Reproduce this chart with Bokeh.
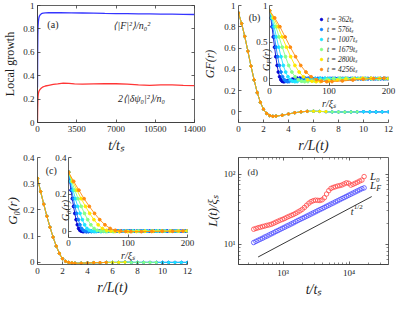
import math
from bokeh.plotting import figure
from bokeh.models import (Range1d, LinearAxis, LogAxis, FixedTicker, CustomJSTickFormatter,
                          Label, Legend, LegendItem, GridBox)
from bokeh.embed import file_html
from bokeh.resources import INLINE

FONT = "Liberation Serif"
AXC = "#3a3a3a"
TXT = "#1e1e1e"

# ---------------- data ----------------
a_t_F = [0, 15, 30, 50, 80, 120, 170, 250, 350, 500, 700, 1000, 1500, 2000, 3000, 4000,
         5000, 6000, 7000, 8000, 9000, 10000, 11000, 12000, 13000, 14000]
a_F2 = [0.30, 0.60, 0.74, 0.82, 0.865, 0.893, 0.91, 0.922, 0.93, 0.935, 0.937, 0.938, 0.938,
        0.938, 0.937, 0.936, 0.934, 0.932, 0.931, 0.930, 0.929, 0.928, 0.927, 0.926, 0.924, 0.923]
a_t_psi = [0, 15, 30, 50, 80, 120, 170, 250, 350, 500, 700, 1000, 1400, 1800, 2300, 2800, 3300,
           4000, 5000, 6000, 7000, 8000, 9000, 10000, 11000, 12000, 13000, 14000]
a_psi = [0.0, 0.12, 0.18, 0.22, 0.25, 0.265, 0.275, 0.285, 0.295, 0.305, 0.312, 0.318, 0.325,
         0.33, 0.337, 0.335, 0.33, 0.328, 0.33, 0.331, 0.331, 0.328, 0.322, 0.318, 0.322, 0.321,
         0.318, 0.316]

times = [362, 576, 1007, 1679, 2800, 4256]
colors = ["#0505d2", "#1280ff", "#1ee4ff", "#86ff86", "#ffe800", "#ff8c10"]
L_scale = [8.5, 11.0, 15.5, 21.5, 28.5, 35.0]
rL = [0, 0.25, 0.5, 0.75, 1.0, 1.25, 1.5, 1.75, 2.0, 2.25, 2.5, 2.75, 3.0,
      3.5, 4.0, 4.5, 5.0, 5.5, 6.0, 6.5, 7.0, 7.5, 8.0, 8.5, 9.0, 9.5, 10.0, 10.5, 11.0, 11.5, 12.0,
      12.5, 13.0, 13.5, 14.0, 14.5, 15.0, 15.5, 16.0, 16.5, 17.0, 17.5, 18.0, 18.5, 19.0, 19.5,
      20.0, 20.5, 21.0, 21.5, 22.0, 22.5, 23.0, 23.5, 24.0]
GF = [0.93, 0.83, 0.71, 0.57, 0.43, 0.30, 0.18, 0.09, 0.025, -0.015, -0.035, -0.042, -0.04,
      -0.032, -0.02, -0.008, 0.0, 0.005, 0.006, 0.004, 0.002, 0.0, -0.001, -0.002, -0.001, 0.0,
      0.001, 0.0, -0.001, 0.0, 0.0,
      0.001, 0.0, -0.001, 0.0, 0.001, 0.0, 0.0, -0.001, 0.0, 0.001, 0.0, 0.0, -0.001, 0.0, 0.0,
      0.001, 0.0, 0.0, -0.001, 0.0, 0.0, 0.001, 0.0, 0.0]
G0 = [0.32, 0.27, 0.222, 0.176, 0.134, 0.096, 0.062, 0.034, 0.014, 0.004, 0.0, -0.002, -0.003,
      -0.003, -0.002, -0.001, -0.001, 0.0, 0.0, 0.0, 0.001, 0.0, 0.0, 0.0, 0.0, 0.0, 0.0, 0.0,
      0.0, 0.0, 0.0,
      0.0, 0.0, 0.0, 0.0, 0.0, 0.0, 0.0, 0.0, 0.0, 0.0, 0.0, 0.0, 0.0, 0.0, 0.0,
      0.0, 0.0, 0.0, 0.0, 0.0, 0.0, 0.0, 0.0, 0.0]
R_MAX = 205

d_t = [360, 389, 420, 453, 490, 529, 571, 617, 666, 720, 777, 839, 906, 979, 1057, 1142, 1233,
       1332, 1438, 1553, 1678, 1812, 1957, 2113, 2282, 2465, 2662, 2875, 3105, 3354, 3622, 3912,
       4225, 4563, 4928, 5322, 5748, 6208, 6704, 7241, 7820, 8446, 9121, 9851, 10639, 11490,
       12410, 13402, 14475, 15633, 16883]
d_L0 = [16.4, 16.8, 17.2, 17.5, 17.9, 18.2, 18.6, 18.9, 19.3, 19.9, 20.6, 21.3, 22.0, 22.6, 23.3,
        24.2, 25.0, 25.8, 26.6, 27.6, 28.8, 30.0, 31.5, 33.5, 36.0, 38.5, 40.5, 41.8, 42.5, 42.3,
        42.0, 43.0, 46.0, 52.0, 58.0, 62.5, 64.5, 66.0, 67.5, 68.5, 70.0, 72.5, 75.0, 74.0, 69.5,
        71.5, 74.0, 76.5, 79.5, 82.0, 92.0]
d_LF = [10.6, 11.0, 11.4, 11.8, 12.2, 12.7, 13.1, 13.6, 14.1, 14.6, 15.2, 15.7, 16.3, 16.9, 17.5,
        18.2, 18.8, 19.5, 20.2, 21.0, 21.8, 22.6, 23.4, 24.2, 25.1, 26.0, 27.0, 28.0, 29.0, 30.1,
        31.2, 32.3, 33.5, 34.8, 36.0, 37.4, 38.7, 40.2, 41.6, 43.2, 44.8, 46.4, 48.1, 49.9, 51.7,
        53.6, 55.6, 57.6, 59.7, 61.9, 63.5]
guide_t = [420, 22000]
guide_L = [6.6, 47.8]

NUMFMT = "return String(Math.round(tick*1000)/1000);"
LOGFMT = ("const e = Math.round(Math.log10(tick));"
          "const s = {1:'\u00b9',2:'\u00b2',3:'\u00b3',4:'\u2074'};"
          "return '10' + s[e];")


def base_fig(w, h, xr, yr, bl, br, bt, bb, xt="linear", yt="linear", bg="white", bga=1.0):
    p = figure(width=w, height=h, x_range=xr, y_range=yr, x_axis_type=xt, y_axis_type=yt,
               output_backend="svg", toolbar_location=None,
               min_border_left=bl, min_border_right=br, min_border_top=bt, min_border_bottom=bb)
    p.border_fill_alpha = 0
    p.background_fill_color = bg
    p.background_fill_alpha = bga
    p.outline_line_color = None
    p.xgrid.visible = False
    p.ygrid.visible = False
    return p


def style_axis(ax, ticks, minor=None, fs="9px", fmt=NUMFMT, empty=False, line=True):
    ax.ticker = FixedTicker(ticks=ticks, minor_ticks=minor or [])
    ax.axis_line_color = AXC if line else None
    ax.axis_line_width = 0.8
    ax.major_tick_line_color = AXC
    ax.major_tick_line_width = 0.8
    ax.major_tick_in = 3
    ax.major_tick_out = 0
    if minor:
        ax.minor_tick_line_color = AXC
        ax.minor_tick_line_width = 0.6
        ax.minor_tick_in = 2
        ax.minor_tick_out = 0
    else:
        ax.minor_tick_line_color = None
    if empty:
        ax.formatter = CustomJSTickFormatter(code="return '';")
        ax.major_label_text_font_size = "0px"
        ax.major_label_standoff = 0
    else:
        ax.formatter = CustomJSTickFormatter(code=fmt)
        ax.major_label_text_font = FONT
        ax.major_label_text_font_size = fs
        ax.major_label_text_color = TXT
        ax.major_label_standoff = 3
    ax.axis_label_text_font = FONT
    ax.axis_label_text_color = TXT


def xlabel(ax, text, fs="14px", standoff=3):
    ax.axis_label = text
    ax.axis_label_text_font_size = fs
    ax.axis_label_text_font_style = "italic"
    ax.axis_label_standoff = standoff


def ytitle(p, text, bounds, fs="13px", standoff=2, log=False):
    """label-only left axis; its title is centred on `bounds`"""
    ax = LogAxis() if log else LinearAxis()
    ax.ticker = FixedTicker(ticks=[])
    ax.formatter = CustomJSTickFormatter(code="return '';")
    ax.major_label_text_font_size = "0px"
    ax.major_label_standoff = 0
    ax.axis_line_color = None
    ax.major_tick_line_color = None
    ax.minor_tick_line_color = None
    ax.bounds = bounds
    ax.axis_label = text
    ax.axis_label_text_font = FONT
    ax.axis_label_text_font_size = fs
    ax.axis_label_text_font_style = "italic"
    ax.axis_label_text_color = TXT
    ax.axis_label_standoff = standoff
    p.add_layout(ax, "left")


def lab(p, x, y, text, fs, style="italic", align="center", angle=0.0, dx=0, dy=0,
        baseline="middle"):
    p.add_layout(Label(x=x, y=y, text=text, x_offset=dx, y_offset=dy, angle=angle,
                       text_font=FONT, text_font_style=style, text_font_size=f"{fs}px",
                       text_align=align, text_baseline=baseline, text_color=TXT))


def vcomp(p, x, y, parts):
    total = sum(pt[3] for pt in parts)
    off = -total / 2
    for text, size, dx, adv in parts:
        lab(p, x, y, text, size, align="left", angle=math.pi / 2, dx=dx, dy=off)
        off += adv


# ---------------- (a) ----------------
pa = base_fig(207, 160, Range1d(0, 14000), Range1d(0, 1), 32, 13, 5, 38)
pa.outline_line_color = AXC
pa.outline_line_width = 0.8
pa.line(a_t_F, a_F2, color="#3535ff", line_width=1.3)
pa.line(a_t_psi, a_psi, color="#ff3535", line_width=1.3)
style_axis(pa.xaxis[0], [0, 3500, 7000, 10500, 14000])
style_axis(pa.yaxis[0], [0, 0.2, 0.4, 0.6, 0.8, 1.0])
xlabel(pa.xaxis[0], "t/t\u209b")
pa.yaxis[0].axis_label = "Local growth"
pa.yaxis[0].axis_label_text_font_size = "12px"
pa.yaxis[0].axis_label_text_font_style = "normal"
pa.yaxis[0].axis_label_standoff = 3
ta = LinearAxis(); style_axis(ta, [0, 3500, 7000, 10500, 14000], empty=True, line=False)
ra = LinearAxis(); style_axis(ra, [0, 0.2, 0.4, 0.6, 0.8, 1.0], empty=True, line=False)
pa.add_layout(ta, "above")
pa.add_layout(ra, "right")
lab(pa, 1374, 0.84, "(a)", 10, style="normal")
lab(pa, 8417, 0.83, "\u27e8|F|\u00b2\u27e9/n\u2080\u00b2", 10)
lab(pa, 9276, 0.205, "2\u27e8|\u03b4\u03c8\u2080|\u00b2\u27e9/n\u2080", 10)

# ---------------- (b) ----------------
pb = base_fig(200, 160, Range1d(0, 12), Range1d(-0.1, 1.0), 34, 7, 5, 38)
style_axis(pb.xaxis[0], [0, 2, 4, 6, 8, 10, 12])
style_axis(pb.yaxis[0], [0, 0.2, 0.4, 0.6, 0.8, 1.0])
xlabel(pb.xaxis[0], "r/L(t)")
ytitle(pb, "GF(r)", (0.496, 0.696), fs="12px", standoff=5)
lab(pb, 1.28, 0.89, "(b)", 10, style="normal")
# inset y-title (sits inside the main frame, next to the inset axis)
vcomp(pb, 2.226, 0.488, [("G", 10, 0, 7.2), ("F", 7, 2.5, 4.3), ("(r)", 10, 0, 10.5)])

ib = base_fig(151, 115, Range1d(0, 200), Range1d(-0.094, 1.0), 21, 11, 5, 30, bga=0)
style_axis(ib.xaxis[0], [0, 100, 200])
style_axis(ib.yaxis[0], [0, 0.5, 1.0])
ib.xaxis[0].major_label_standoff = 2
ib.yaxis[0].major_label_standoff = 2
xlabel(ib.xaxis[0], "r/\u03be\u209b", fs="10px", standoff=1)

# ---------------- (c) ----------------
pc = base_fig(199, 147, Range1d(0, 12), Range1d(-0.008, 0.4), 32, 10, 5, 33)
style_axis(pc.xaxis[0], [0, 2, 4, 6, 8, 10, 12])
style_axis(pc.yaxis[0], [0, 0.1, 0.2, 0.3, 0.4])
xlabel(pc.xaxis[0], "r/L(t)")
ytitle(pc, "G\u2080(r)", (0.057, 0.257), fs="13px", standoff=1)
lab(pc, 1.10, 0.352, "(c)", 10, style="normal")
lab(pc, 2.255, 0.198, "G\u2080(r)", 10, angle=math.pi / 2)

ic = base_fig(151, 114, Range1d(0, 200), Range1d(-0.035, 0.4), 20, 12, 4, 30, bga=0)
style_axis(ic.xaxis[0], [0, 100, 200])
style_axis(ic.yaxis[0], [0, 0.2, 0.4])
ic.xaxis[0].major_label_standoff = 2
ic.yaxis[0].major_label_standoff = 2
xlabel(ic.xaxis[0], "r/\u03be\u209b", fs="10px", standoff=1)

legend_items = []
for i, t in enumerate(times):
    L = L_scale[i]
    xs = [x for x in rL if x * L <= R_MAX]
    n = len(xs)
    gf = GF[:n]
    g0 = G0[:n]
    rr = [x * L for x in xs]
    c = colors[i]
    pb.line(xs, gf, color=c, line_width=0.8)
    pb.scatter(xs, gf, size=2.3, color=c)
    pc.line(xs, g0, color=c, line_width=0.8)
    pc.scatter(xs, g0, size=2.3, color=c)
    ib.line(rr, gf, color=c, line_width=0.9)
    s = ib.scatter(rr, gf, size=2.8, color=c)
    ic.line(rr, g0, color=c, line_width=0.9)
    ic.scatter(rr, g0, size=2.8, color=c)
    legend_items.append(LegendItem(label=f"t = {t}t\u209b", renderers=[s]))

leg = Legend(items=legend_items, location=(49, 11), glyph_width=6, glyph_height=6,
             label_height=6, spacing=0, padding=0, margin=0, label_standoff=3,
             label_text_font=FONT, label_text_font_size="7.5px", label_text_font_style="italic",
             label_text_line_height=1.0,
             label_text_color=TXT, background_fill_alpha=0, border_line_color=None)
ib.add_layout(leg)

# ---------------- (d) ----------------
pd_ = base_fig(200, 147, Range1d(212, 39500), Range1d(5.16, 172), 33, 7, 5, 31,
               xt="log", yt="log")
pd_.outline_line_color = AXC
pd_.outline_line_width = 0.8
xmin = [300, 400, 500, 600, 700, 800, 900, 2000, 3000, 4000, 5000, 6000, 7000, 8000, 9000,
        20000, 30000]
ymin = [6, 7, 8, 9, 20, 30, 40, 50, 60, 70, 80, 90]
style_axis(pd_.xaxis[0], [1000, 10000], minor=xmin, fmt=LOGFMT)
style_axis(pd_.yaxis[0], [10, 100], minor=ymin, fmt=LOGFMT)
xlabel(pd_.xaxis[0], "t/t\u209b", standoff=1)
ytitle(pd_, "L(t)/\u03be\u209b", (7.57, 30.1), fs="12.5px", standoff=1, log=True)
td = LogAxis(); style_axis(td, [1000, 10000], minor=xmin, empty=True, line=False)
rd = LogAxis(); style_axis(rd, [10, 100], minor=ymin, empty=True, line=False)
pd_.add_layout(td, "above")
pd_.add_layout(rd, "right")
pd_.line(guide_t, guide_L, color="#202020", line_width=0.9)
pd_.scatter(d_t, d_L0, marker="circle", size=4.5, fill_color=None, line_color="#ff4545",
            line_width=0.8)
pd_.scatter(d_t, d_LF, marker="circle", size=4.5, fill_color=None, line_color="#4545ff",
            line_width=0.8)
lab(pd_, 348, 106, "(d)", 9, style="normal")
lab(pd_, 20700, 95, "L\u2080", 11, align="left")
lab(pd_, 20700, 69.5, "L", 11, align="left")
lab(pd_, 20700, 69.5, "F", 8, align="left", dx=6.3, dy=-3)
lab(pd_, 10570, 29.7, "t", 10, align="left")
lab(pd_, 10570, 29.7, "1/2", 7, style="normal", align="left", dx=3.2, dy=4)

# ---------------- layout ----------------
grid = GridBox(children=[(pa, 0, 0, 4, 3), (pb, 0, 2, 4, 3), (pc, 2, 0, 4, 2),
                         (pd_, 2, 2, 4, 3), (ib, 0, 4, 1, 1), (ic, 3, 1, 2, 1)],
               rows=["115px", "37px", "1px", "7px", "107px", "32px"],
               cols=["48px", "151px", "8px", "41px", "151px"],
               spacing=0)

open("out.html", "w").write(file_html(grid, INLINE))
